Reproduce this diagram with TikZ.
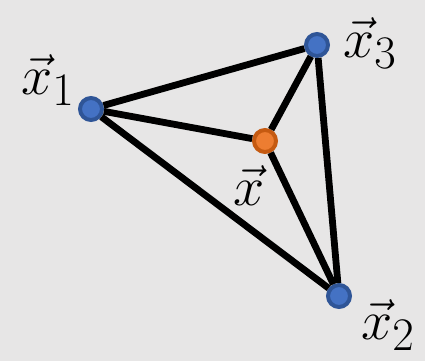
\documentclass[tikz,border=0pt]{standalone}
\usepackage{amsmath}
\definecolor{bgc}{HTML}{E7E6E6}
\definecolor{bluein}{HTML}{4472C4}
\definecolor{blueout}{HTML}{2F5597}
\definecolor{orin}{HTML}{ED7D31}
\definecolor{orout}{HTML}{C55A11}
\tikzset{
  dot/.style={circle, inner sep=0pt, minimum size=22pt, line width=4pt},
  bluedot/.style={dot, fill=bluein, draw=blueout},
  orangedot/.style={dot, fill=orin, draw=orout},
  edge/.style={line width=6.8pt, black},
  lbl/.style={font=\Huge, scale=2.25, inner sep=0pt}
}
\begin{document}
\begin{tikzpicture}[x=1pt,y=-1pt]
\fill[bgc] (0,0) rectangle (425,361);
\useasboundingbox (0,0) rectangle (425,361);
\node[bluedot] (d1) at (91,109) {};
\node[bluedot] (d3) at (317,45) {};
\node[bluedot] (d2) at (339,296) {};
\node[orangedot] (c) at (265,141) {};
\draw[edge] (d1) -- (d3);
\draw[edge] (d1) -- (d2);
\draw[edge] (d3) -- (d2);
\draw[edge] (c) -- (d1);
\draw[edge] (c) -- (d2);
\draw[edge] (c) -- (d3);
\node[lbl] (l1) at (48,80) {$\vec{x}_1$};
\node[lbl] (l3) at (370,43) {$\vec{x}_3$};
\node[lbl] (l2) at (388,325) {$\vec{x}_2$};
\node[lbl] (lc) at (249,186) {$\vec{x}$};
\end{tikzpicture}
\end{document}
